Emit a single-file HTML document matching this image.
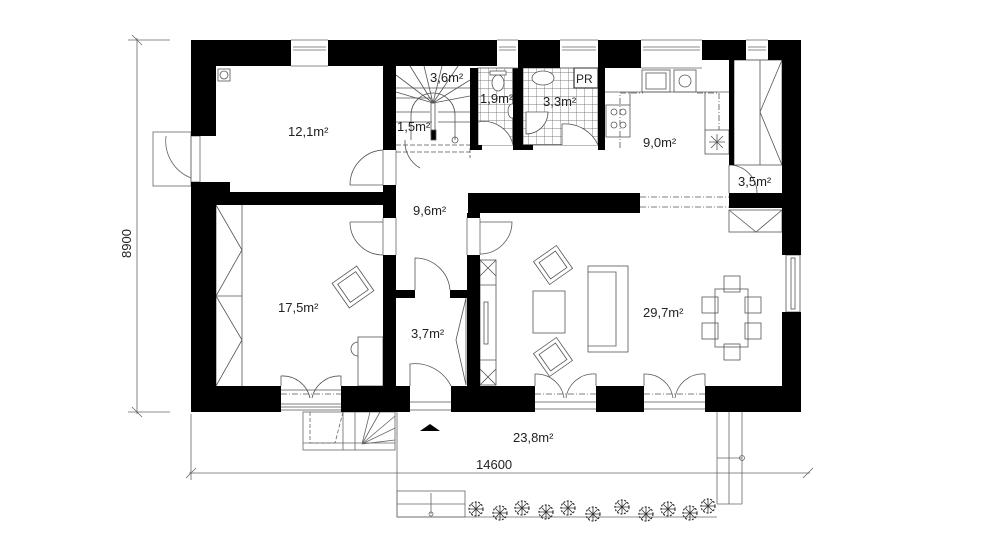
<!DOCTYPE html>
<html><head><meta charset="utf-8"><style>
html,body{margin:0;padding:0;background:#fff;}
svg{display:block;}
text{font-family:"Liberation Sans",sans-serif;fill:#222;}
</style></head><body>
<svg width="992" height="558" viewBox="0 0 992 558" xmlns="http://www.w3.org/2000/svg">
<defs>
<pattern id="tile" width="8" height="8" patternUnits="userSpaceOnUse">
<path d="M0 0H8M0 0V8" stroke="#555" stroke-width="0.7" fill="none"/>
</pattern>
<g id="pl" fill="none" stroke="#333" stroke-width="1.2"><circle cx="0" cy="0" r="7" stroke-dasharray="2 1.5"/><path d="M-5 -5L5 5M-5 5L5 -5M0 -7V7M-7 0H7" stroke-width="0.8"/></g>
</defs>
<g fill="none" stroke="#666" stroke-width="0.8">
<line x1="137" y1="38" x2="137" y2="414"/>
<line x1="128" y1="40" x2="170" y2="40"/>
<line x1="128" y1="412" x2="170" y2="412"/>
<line x1="132" y1="35" x2="142" y2="45"/>
<line x1="132" y1="407" x2="142" y2="417"/>
<line x1="189" y1="473" x2="810" y2="473"/>
<line x1="191" y1="414" x2="191" y2="480"/>
<line x1="186" y1="478" x2="196" y2="468"/>
<line x1="803" y1="478" x2="813" y2="468"/>
<rect x="153" y="132" width="38" height="54"/>
<rect x="191" y="136" width="9" height="46"/>
<path d="M166 136 A40 40 0 0 0 191 178"/>
<line x1="397" y1="412" x2="397" y2="517"/>
<line x1="397" y1="517" x2="717" y2="517"/>
<line x1="717" y1="412" x2="717" y2="504"/>
<line x1="729" y1="412" x2="729" y2="504"/>
<line x1="742" y1="412" x2="742" y2="504"/>
<line x1="717" y1="504" x2="742" y2="504"/>
<line x1="717" y1="458" x2="742" y2="458"/>
<circle cx="742" cy="458" r="2.5"/>
<rect x="397" y="491" width="68" height="26"/>
<line x1="397" y1="504" x2="465" y2="504"/>
<line x1="431" y1="514" x2="431" y2="493"/>
<circle cx="431" cy="514" r="2"/>
<rect x="303" y="412" width="92" height="38"/>
<path d="M310 412 V443 H335 L343 412" stroke-dasharray="4 2"/>
<line x1="343" y1="412" x2="343" y2="450"/>
<line x1="355" y1="412" x2="355" y2="450"/>
<path d="M362 444 L395 416 M362 444 L395 428 M362 444 L380 412 M362 444 L395 440 M362 444 L370 412"/>
<line x1="303" y1="443" x2="395" y2="443"/>
</g>
<use href="#pl" x="476" y="509"/><use href="#pl" x="500" y="513"/><use href="#pl" x="522" y="508"/><use href="#pl" x="546" y="512"/>
<use href="#pl" x="568" y="508"/><use href="#pl" x="593" y="514"/><use href="#pl" x="622" y="507"/><use href="#pl" x="646" y="514"/>
<use href="#pl" x="668" y="509"/><use href="#pl" x="690" y="513"/><use href="#pl" x="708" y="506"/>
<g fill="none" stroke="#555" stroke-width="0.8">
<rect x="478" y="68" width="35" height="77" fill="url(#tile)"/>
<rect x="523" y="68" width="75" height="77" fill="url(#tile)"/>
<rect x="574" y="68" width="24" height="20" fill="#fff" stroke="#333" stroke-width="1.2"/>
<ellipse cx="498" cy="83" rx="6" ry="8" fill="#fff"/><rect x="490" y="71" width="16" height="4" fill="#fff"/>
<ellipse cx="512" cy="111" rx="4" ry="7" fill="#fff"/>
<ellipse cx="543" cy="78" rx="11" ry="7" fill="#fff"/>
<path d="M526 112 H548 A22 22 0 0 1 526 134 Z" fill="#fff"/>
<path d="M478 145 V122 A30 30 0 0 1 513 145" fill="#fff"/>
<path d="M562 145 V124 A36 36 0 0 1 598 145" fill="#fff"/>
<rect x="642" y="70" width="28" height="22"/><rect x="646" y="73" width="20" height="16"/>
<rect x="674" y="70" width="22" height="22"/><circle cx="685" cy="81" r="6"/>
<rect x="606" y="105" width="24" height="32"/>
<circle cx="614" cy="112" r="3"/><circle cx="623" cy="112" r="3"/><circle cx="614" cy="125" r="3"/><circle cx="623" cy="125" r="3"/>
<rect x="705" y="130" width="24" height="24"/><path d="M709 142H725M717 134V150M711 136L723 148M711 148L723 136"/>
<path d="M620 148 V93 H643 M697 93 H719 V130 M630 93 V92" stroke-dasharray="6 2 1 2"/>
<path d="M605 92 H730 M630 92 V105 M705 92 V130"/>
<rect x="734" y="60" width="48" height="105"/>
<path d="M760 60 V165 M782 60 L760 112 L782 165"/>
<path d="M729 165 A28 28 0 0 1 757 193 M729 165 V193"/>
<path d="M396 88 H470 M396 98 H432 M396 112 H430 M438 112 H470 M396 122 H432 M438 122 H470"/>
<path d="M433 103 L410 66 M433 103 L424 66 M433 103 L442 66 M433 103 L458 66 M433 103 L470 80 M433 103 L396 75 M433 103 L396 92 M433 103 L470 96"/>
<path d="M411 140 V115 A22 22 0 0 1 455 115 V140"/>
<circle cx="455" cy="140" r="3"/>
<rect x="431" y="103" width="4" height="32"/>
<rect x="431" y="130" width="5" height="10" fill="#000"/>
<path d="M396 145 H470 V158 M396 152 H470" stroke-dasharray="5 2"/>
<path d="M405 140 A30 30 0 0 0 420 168" />
<rect x="218" y="69" width="12" height="12"/><circle cx="224" cy="75" r="4"/>
<path d="M383 150 A35 35 0 0 0 350 185 H383"/>
<path d="M216 205 V386 M242 205 V386 M216 296 H242 M216 205 L242 250 L216 296 L242 340 L216 386"/>
<path d="M350 222 A33 33 0 0 0 383 255 M383 222 H350"/>
<g transform="rotate(-35 353 287)"><rect x="338" y="272" width="30" height="30"/><rect x="342" y="276" width="22" height="22"/></g>
<rect x="358" y="337" width="25" height="49"/>
<path d="M358 342 A7 7 0 0 0 358 356"/>
<path d="M281 386 V376 A28 28 0 0 1 310 398 M341 386 V376 A28 28 0 0 0 312 398"/>
<path d="M281 390 H341 M281 404 H341 M281 407 H341 M281 410 H341"/>
<path d="M480 254 A32 32 0 0 0 512 222 H480"/>
<path d="M415 290 V258 A35 35 0 0 1 450 290"/>
<path d="M410 386 V364 A40 40 0 0 1 451 386"/>
<path d="M410 402 H451 M410 410 H451"/>
<path d="M466 298 V385 M466 298 L456 340 L466 385"/>
<rect x="480" y="260" width="16" height="125"/>
<path d="M480 260 L496 276 M480 276 L496 260 M480 385 L496 369 M480 369 L496 385 M480 285 H496 M480 360 H496"/>
<rect x="484" y="302" width="4" height="42"/>
<rect x="588" y="266" width="40" height="86"/><path d="M588 272 H616 V346 H588"/>
<rect x="533" y="291" width="32" height="42"/>
<g transform="rotate(-35 553 265)"><rect x="539" y="251" width="28" height="28"/><rect x="543" y="255" width="20" height="20"/></g>
<g transform="rotate(-35 553 357)"><rect x="539" y="343" width="28" height="28"/><rect x="543" y="347" width="20" height="20"/></g>
<rect x="715" y="289" width="33" height="58"/>
<rect x="724" y="276" width="16" height="16"/><rect x="724" y="344" width="16" height="16"/>
<rect x="702" y="297" width="16" height="16"/><rect x="702" y="323" width="16" height="16"/>
<rect x="745" y="297" width="16" height="16"/><rect x="745" y="323" width="16" height="16"/>
<rect x="729" y="210" width="53" height="22"/><path d="M729 210 L756 232 L782 210"/>
<path d="M535 386 V374 A28 28 0 0 1 564 398 M596 386 V374 A28 28 0 0 0 566 398"/>
<path d="M644 386 V374 A28 28 0 0 1 673 398 M705 386 V374 A28 28 0 0 0 675 398"/>
<path d="M535 402 H596 M535 409 H596 M644 402 H705 M644 409 H705"/>
<path d="M640 197 H729 M640 207 H729 M535 394 H596 M644 394 H705 M281 394 H341" stroke-dasharray="6 2 1 2"/>
<rect x="786" y="255" width="14" height="57"/><rect x="791" y="258" width="4" height="51"/>
</g>
<g fill="#000">
<rect x="191" y="40" width="100" height="26"/>
<rect x="328" y="40" width="169" height="26"/>
<rect x="518" y="40" width="42" height="28"/>
<rect x="598" y="40" width="43" height="28"/>
<rect x="702" y="40" width="44" height="20"/>
<rect x="768" y="40" width="33" height="20"/>
<rect x="782" y="40" width="19" height="215"/>
<rect x="782" y="312" width="19" height="100"/>
<rect x="191" y="40" width="25" height="96"/>
<rect x="191" y="182" width="25" height="230"/>
<rect x="216" y="182" width="14" height="10"/>
<rect x="216" y="192" width="180" height="13"/>
<rect x="383" y="66" width="13" height="84"/>
<rect x="383" y="185" width="13" height="33"/>
<rect x="383" y="255" width="13" height="131"/>
<rect x="470" y="68" width="8" height="82"/>
<rect x="513" y="68" width="10" height="82"/>
<rect x="598" y="68" width="7" height="82"/>
<rect x="470" y="145" width="12" height="5"/><rect x="513" y="145" width="20" height="5"/>
<rect x="729" y="60" width="5" height="105"/>
<rect x="729" y="193" width="53" height="15"/>
<rect x="468" y="193" width="172" height="20"/>
<rect x="467" y="213" width="13" height="5"/>
<rect x="467" y="255" width="13" height="131"/>
<rect x="396" y="290" width="19" height="8"/>
<rect x="450" y="290" width="18" height="8"/>
<rect x="191" y="386" width="90" height="26"/>
<rect x="341" y="386" width="69" height="26"/>
<rect x="451" y="386" width="84" height="26"/>
<rect x="596" y="386" width="48" height="26"/>
<rect x="705" y="386" width="96" height="26"/>
<path d="M420 431 L430 424 L440 431 Z"/>
</g>
<g fill="none" stroke="#666" stroke-width="0.8">
<path d="M291 40 H328 M291 66 H328 M293 47 H326 M293 50 H326"/>
<path d="M497 40 H518 M497 68 H518 M499 47 H516 M499 50 H516"/>
<path d="M560 40 H598 M560 68 H598 M562 47 H596 M562 50 H596"/>
<path d="M641 40 H702 M641 68 H702 M643 47 H700 M643 50 H700"/>
<path d="M746 40 H768 M746 60 H768 M748 47 H766 M748 50 H766"/>
<path d="M396 218 V255 M467 218 V255 M383 218 V255 M480 218 V255 M383 150 V185 M396 150 V185"/>
</g>
<g font-size="13">
<text x="288" y="136">12,1m²</text>
<text x="430" y="82">3,6m²</text>
<text x="397" y="131">1,5m²</text>
<text x="480" y="103">1,9m²</text>
<text x="543" y="106">3,3m²</text>
<text x="576" y="83" font-size="12">PR</text>
<text x="643" y="147">9,0m²</text>
<text x="738" y="186">3,5m²</text>
<text x="413" y="215">9,6m²</text>
<text x="278" y="312">17,5m²</text>
<text x="411" y="338">3,7m²</text>
<text x="643" y="317">29,7m²</text>
<text x="513" y="442">23,8m²</text>
<text x="476" y="469" fill="#777">14600</text>
<text x="0" y="0" fill="#777" transform="translate(131 258) rotate(-90)">8900</text>
</g>
</svg>
</body></html>
